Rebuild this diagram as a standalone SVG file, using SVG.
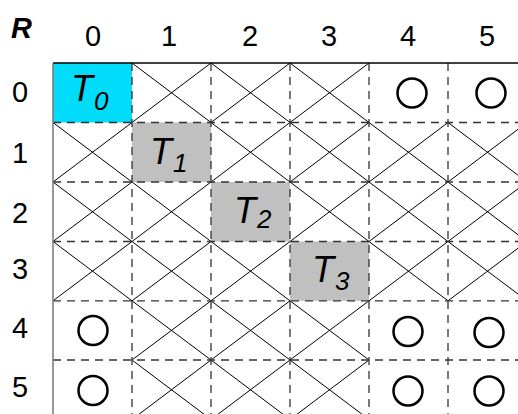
<svg xmlns="http://www.w3.org/2000/svg" width="518" height="414" viewBox="0 0 518 414">
<style>
.lbl{font-family:"Liberation Sans",Arial,sans-serif;font-size:29px;fill:#000}
.t{font-family:"Liberation Sans",Arial,sans-serif;font-style:italic;font-size:36px;fill:#000}
.s{font-size:26px}
.x{stroke:#000;stroke-width:1;fill:none}
.d{stroke:#333;stroke-width:1.3;stroke-dasharray:8,6;fill:none}
.c{fill:none;stroke:#000;stroke-width:2.5}
</style>
<rect width="518" height="414" fill="#fff"/>
<g id="cells">
<rect id="cell-T0" x="53" y="63" width="79" height="59.5" fill="#00DCFA"/>
<rect id="cell-T1" x="132" y="122.5" width="79" height="59.5" fill="#C0C0C0"/>
<rect id="cell-T2" x="211" y="182" width="79" height="59.5" fill="#C0C0C0"/>
<rect id="cell-T3" x="290" y="241.5" width="79" height="59.3" fill="#C0C0C0"/>
</g>
<g id="connectors">
<g id="crosses" class="x">
<path d="M132,63L211,122.5M211,63L132,122.5M211,63L290,122.5M290,63L211,122.5M290,63L369,122.5M369,63L290,122.5"/>
<path d="M53,122.5L132,182M132,122.5L53,182M211,122.5L290,182M290,122.5L211,182M290,122.5L369,182M369,122.5L290,182M369,122.5L448,182M448,122.5L369,182M448,122.5L527,182M527,122.5L448,182"/>
<path d="M53,182L132,241.5M132,182L53,241.5M132,182L211,241.5M211,182L132,241.5M290,182L369,241.5M369,182L290,241.5M369,182L448,241.5M448,182L369,241.5M448,182L527,241.5M527,182L448,241.5"/>
<path d="M53,241.5L132,300.8M132,241.5L53,300.8M132,241.5L211,300.8M211,241.5L132,300.8M211,241.5L290,300.8M290,241.5L211,300.8M369,241.5L448,300.8M448,241.5L369,300.8M448,241.5L527,300.8M527,241.5L448,300.8"/>
<path d="M132,300.8L211,360M211,300.8L132,360M211,300.8L290,360M290,300.8L211,360M290,300.8L369,360M369,300.8L290,360"/>
<path d="M132,360L211,419.5M211,360L132,419.5M211,360L290,419.5M290,360L211,419.5M290,360L369,419.5M369,360L290,419.5"/>
</g>
<g id="grid">
<path class="d" d="M132,63V414M211,63V414M290,63V414M369,63V414M448,63V414"/>
<path class="d" d="M53,122.5H518M53,182H518M53,241.5H518M53,300.8H518M53,360H518"/>
<path d="M53,63H518" stroke="#000" stroke-width="1.5"/>
<path d="M53,63V414" stroke="#777" stroke-width="1.5"/>
</g>
</g>
<g id="circles">
<circle class="c" cx="412" cy="93" r="14.5"/>
<circle class="c" cx="491" cy="93" r="14.5"/>
<circle class="c" cx="93" cy="330.5" r="14.5"/>
<circle class="c" cx="93" cy="390.5" r="14.5"/>
<circle class="c" cx="408" cy="331.5" r="14.5"/>
<circle class="c" cx="489" cy="332.5" r="14.5"/>
<circle class="c" cx="408" cy="391" r="14.5"/>
<circle class="c" cx="489" cy="391" r="14.5"/>
</g>
<g id="node-T0"><text class="t" x="71" y="101">T<tspan class="s" x="94" y="110">0</tspan></text></g>
<g id="node-T1"><text class="t" x="150" y="164">T<tspan class="s" x="173" y="172">1</tspan></text></g>
<g id="node-T2"><text class="t" x="234" y="223">T<tspan class="s" x="257" y="228">2</tspan></text></g>
<g id="node-T3"><text class="t" x="312" y="282">T<tspan class="s" x="335" y="290">3</tspan></text></g>
<g id="labels">
<text class="lbl" x="11" y="38" font-weight="bold" font-style="italic">R</text>
<g text-anchor="middle">
<text class="lbl" x="93" y="46">0</text>
<text class="lbl" x="169" y="46">1</text>
<text class="lbl" x="250" y="46">2</text>
<text class="lbl" x="329" y="46">3</text>
<text class="lbl" x="408" y="46">4</text>
<text class="lbl" x="487" y="46">5</text>
<text class="lbl" x="20" y="102">0</text>
<text class="lbl" x="20" y="163">1</text>
<text class="lbl" x="20" y="223">2</text>
<text class="lbl" x="20" y="279">3</text>
<text class="lbl" x="20" y="338">4</text>
<text class="lbl" x="20" y="397">5</text>
</g>
</g>
</svg>
